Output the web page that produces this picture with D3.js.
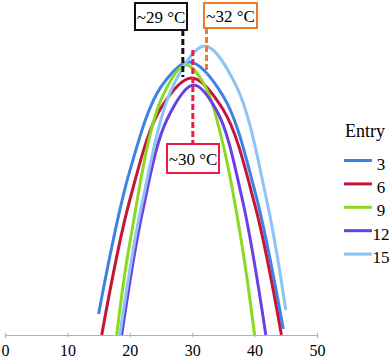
<!DOCTYPE html>
<html>
<head>
<meta charset="utf-8">
<script src="https://cdn.jsdelivr.net/npm/d3@7"></script>
<style>
  body { margin: 0; background: #fff; }
  svg { display: block; }
  text { font-family: "Liberation Serif", "DejaVu Serif", serif; }
</style>
</head>
<body>
<svg id="chart"></svg>
<script>
// temperature (°C) vs. relative response (no y axis shown)
const entries = [3, 6, 9, 12, 15];
const colors = ["#3f82e6", "#c4163a", "#8bd922", "#6a40e6", "#8cc4f6"];
const series3  = [[15, 7], [20, 54.7], [25, 82.7], [29.6, 91], [35, 79.5], [40, 48.3], [44.6, 2]];
const series6  = [[15.5, 0], [20, 45], [25, 75.7], [29.9, 85.7], [35, 75], [40, 43.7], [44.3, 0]];
const series9  = [[17.9, 0], [20, 30.7], [25, 78.4], [29, 90], [32, 83.2], [35, 63], [38, 29.7], [40, 0]];
const series12 = [[18.7, 0], [22, 40.7], [26, 72], [30.2, 83.3], [34, 74.5], [38, 45.5], [41.8, 0]];
const series15 = [[18.4, 0], [22, 44.3], [27, 83.3], [32, 96.3], [37, 83.3], [42, 44.3], [45, 8.3]];
const allSeries = [series3, series6, series9, series12, series15];
const xTicks = [0, 10, 20, 30, 40, 50];

// optimum temperature markers
const markTemps = [28.5, 30.1, 32.3];
const markLabels = ["~29 °C", "~30 °C", "~32 °C"];
const markColors = ["#111111", "#ec1a44", "#f07a26"];
const markPeaks = [86, 95, 87];

const width = 392, height = 359;
const margin = { top: 35, bottom: 24 };
const serif = "'Liberation Serif', 'DejaVu Serif', serif";

const x = d3.scaleLinear().domain([0, 50]).range([5, 317]);
const y = d3.scaleLinear().domain([0, 100]).range([height - margin.bottom, margin.top]);

const svg = d3.select("#chart").attr("width", width).attr("height", height);

// x axis
const axis = svg.append("g")
  .attr("transform", `translate(0,${y(0)})`)
  .call(d3.axisBottom(x).tickValues(xTicks).tickSize(3).tickPadding(8));
axis.attr("font-family", serif);
axis.select(".domain").attr("stroke", "#a9b1b9").attr("stroke-width", 1.2);
axis.selectAll(".tick line").attr("stroke", "#a9b1b9").attr("y1", -2).attr("y2", 2);
axis.selectAll(".tick text")
  .attr("fill", "#000")
  .attr("font-size", 16)
  .attr("dy", null)
  .attr("y", 21);

// curves
const line = d3.line()
  .x(d => x(d[0]))
  .y(d => y(d[1]))
  .curve(d3.curveCatmullRom.alpha(0.5));

svg.append("g")
  .selectAll("path")
  .data(allSeries)
  .join("path")
  .attr("d", line)
  .attr("fill", "none")
  .attr("stroke", (d, i) => colors[i])
  .attr("stroke-width", 3);

// dashed markers
const boxes = [
  { x0: 135, y0: 3, w: 52, h: 27 },
  { x0: 167, y0: 144, w: 52, h: 29 },
  { x0: 204, y0: 3, w: 53, h: 25 }
];

markTemps.forEach((t, i) => {
  const b = boxes[i];
  let yTop, yBot;
  if (i === 1) { yTop = y(markPeaks[i]); yBot = b.y0; }
  else { yTop = b.y0 + b.h; yBot = y(markPeaks[i]); }
  svg.append("line")
    .attr("x1", x(t)).attr("x2", x(t))
    .attr("y1", yTop).attr("y2", yBot)
    .attr("stroke", markColors[i])
    .attr("stroke-width", 3)
    .attr("stroke-dasharray", "6,3");
  svg.append("rect")
    .attr("x", b.x0).attr("y", b.y0)
    .attr("width", b.w).attr("height", b.h)
    .attr("fill", "#fff")
    .attr("stroke", markColors[i])
    .attr("stroke-width", 2);
  svg.append("text")
    .attr("x", b.x0 + b.w / 2)
    .attr("y", b.y0 + b.h / 2 + 6)
    .attr("text-anchor", "middle")
    .attr("font-family", serif)
    .attr("font-size", 17)
    .text(markLabels[i]);
});

// legend
svg.append("text")
  .attr("x", 345).attr("y", 137)
  .attr("font-family", serif)
  .attr("font-size", 18)
  .text("Entry");

const legend = svg.append("g")
  .selectAll("g")
  .data(entries)
  .join("g")
  .attr("transform", (d, i) => `translate(0,${160.5 + i * 23.4})`);
legend.append("line")
  .attr("x1", 344).attr("x2", 372)
  .attr("stroke", (d, i) => colors[i])
  .attr("stroke-width", 3);
legend.append("text")
  .attr("x", 381).attr("y", 9)
  .attr("text-anchor", "middle")
  .attr("font-family", serif)
  .attr("font-size", 17)
  .text(d => d);
</script>
</body>
</html>
